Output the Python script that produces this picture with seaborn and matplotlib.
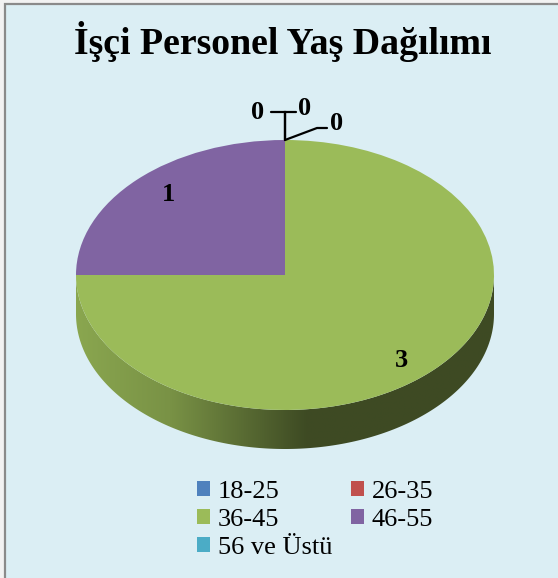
import numpy as np
import matplotlib
matplotlib.use("Agg")
import matplotlib.pyplot as plt
import seaborn as sns
from matplotlib.patches import Patch, Rectangle, Polygon
from matplotlib.colors import to_rgb

# Age groups and headcounts of blue-collar staff
age_groups = ["18-25", "26-35", "36-45", "46-55", "56 ve Üstü"]
counts = [0, 0, 3, 1, 0]
group_colors = ["#4F81BD", "#C0504D", "#9BBB59", "#8064A2", "#4BACC6"]
title_text = "İşçi Personel Yaş Dağılımı"

sns.set_theme(style="white")
plt.rcParams["font.family"] = ["Liberation Serif", "DejaVu Serif"]

W, H, DPI = 558, 578, 100
fig = plt.figure(figsize=(W / DPI, H / DPI), dpi=DPI, facecolor="#F2F2F2")

# chart area with grey frame
fig.patches.append(Rectangle((5 / W, -0.05), 1.1, 1 - 4 / H + 0.05,
                             transform=fig.transFigure, facecolor="#DBEEF4",
                             edgecolor="#8A8A8A", linewidth=1.6, zorder=-5))

# pie geometry in pixels: centre, horizontal / vertical radius, depth
cx, cy, rx, ry, depth_px = 285, 275, 209, 135, 39
ax = fig.add_axes([0, 0, 1, 1], zorder=2)
ax.patch.set_visible(False)
palette = sns.color_palette(group_colors)
wedges, _ = ax.pie(counts, colors=palette, startangle=90, counterclock=False,
                   radius=1.0, wedgeprops=dict(linewidth=0))
ax.set_aspect("auto")
ax.set_axis_off()
for w in wedges:
    w.set_zorder(3)

depth = depth_px / ry


def front_ranges(t1, t2):
    out = []
    for k in (-2, -1, 0, 1):
        a, b = max(t1 + 360 * k, 180), min(t2 + 360 * k, 360)
        if b > a:
            out.append((a, b))
    return out


# extruded side of the pie, shaded left to right
xs_grad = np.linspace(-1, 1, 400)
shade = np.interp(xs_grad, [-1.0, -0.55, 0.1, 1.0], [0.89, 0.78, 0.40, 0.40])
for w, col in zip(wedges, palette):
    base = np.array(to_rgb(col))
    for a, b in front_ranges(w.theta1, w.theta2):
        t = np.radians(np.linspace(a, b, 200))
        top = np.column_stack([np.cos(t), np.sin(t)])
        bot = np.column_stack([np.cos(t[::-1]), np.sin(t[::-1]) - depth])
        poly = Polygon(np.vstack([top, bot]), closed=True, facecolor="none",
                       edgecolor="none")
        ax.add_patch(poly)
        img = (shade[None, :, None] * base[None, None, :]).clip(0, 1)
        im = ax.imshow(img, extent=(-1, 1, -1 - depth, 0.05), aspect="auto",
                       interpolation="bilinear", zorder=2)
        im.set_clip_path(poly)
ax.set_aspect("auto")
ax.set_xlim(-cx / rx, (W - cx) / rx)
ax.set_ylim((cy - H) / ry, cy / ry)

# value labels inside non-empty slices
lab_kw = dict(fontsize=19, fontweight="bold", color="black", ha="center",
              va="center_baseline", zorder=5)
for w, v in zip(wedges, counts):
    if v > 0:
        mid = np.radians((w.theta1 + w.theta2) / 2)
        ax.text(0.79 * np.cos(mid), 0.87 * np.sin(mid), str(v), **lab_kw)


# zero-value labels with leader lines from the top of the pie
def px(x, y):
    return (x - cx) / rx, (cy - y) / ry


zero_idx = [i for i, v in enumerate(counts) if v == 0]
zero_label_pos = [(258, 110), (305, 106), (337, 121)]
leader_paths = [[(285, 140), (285, 112), (271, 112)],
                [(285, 140), (285, 112), (296, 112)],
                [(285, 140), (317, 128), (327, 128)]]
for i, (lx, ly), path in zip(zero_idx, zero_label_pos, leader_paths):
    pts = np.array([px(*p) for p in path])
    ax.plot(pts[:, 0], pts[:, 1], color="black", lw=1.6, zorder=4,
            solid_joinstyle="miter")
    ax.text(*px(lx, ly), str(counts[i]), **lab_kw)

# title
fig.text(283 / W, 1 - 54 / H, title_text, ha="center", va="baseline",
         fontsize=27.2, fontweight="bold", color="black")

# legend laid out row by row (two columns)
handles = [Patch(facecolor=c, edgecolor="none", label=l)
           for c, l in zip(palette, age_groups)]
order = [0, 2, 4, 1, 3]
leg = fig.legend([handles[i] for i in order], [age_groups[i] for i in order],
                 ncol=2, loc="upper left",
                 bbox_to_anchor=(197 / W, 1 - 481 / H),
                 frameon=False, fontsize=19, handlelength=0.5,
                 handleheight=0.5, handletextpad=0.3, columnspacing=0.68,
                 labelspacing=0.23, borderpad=0.0, borderaxespad=0.0)
for t in leg.get_texts():
    t.set_color("black")

fig.savefig("out.png", dpi=DPI, facecolor=fig.get_facecolor())
